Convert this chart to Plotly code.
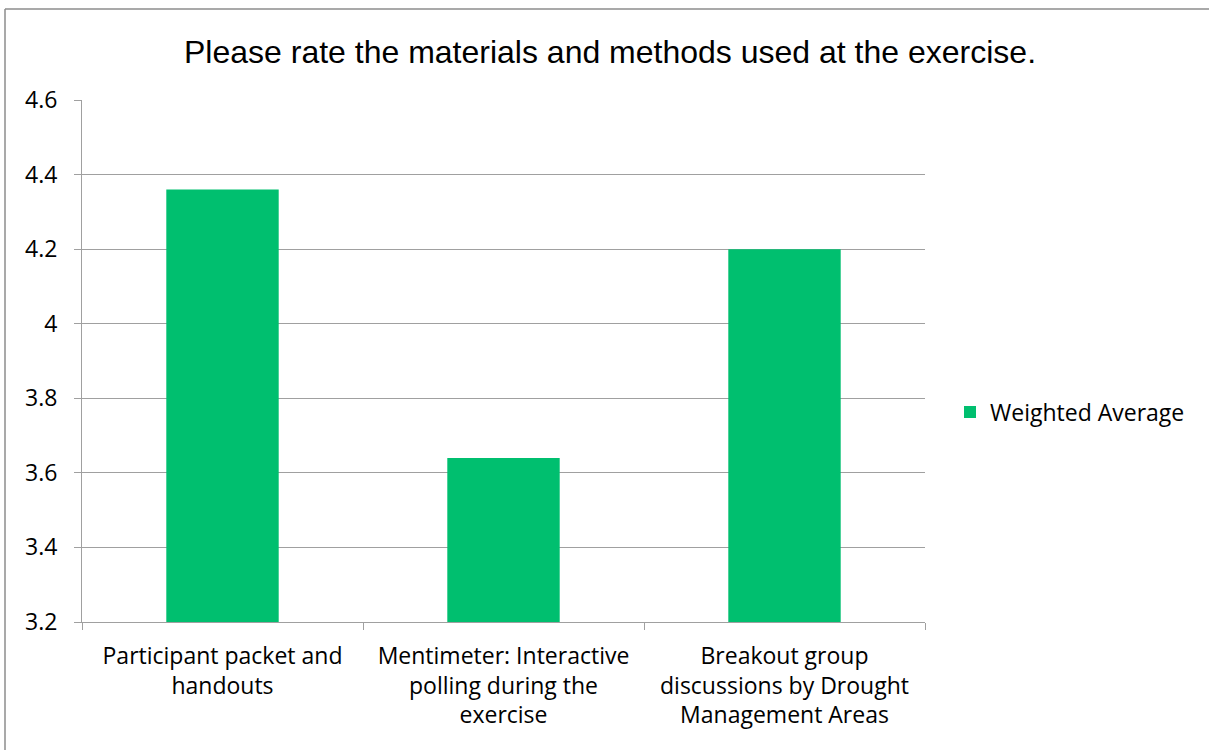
import plotly.graph_objects as go

categories = [
    "Participant packet and<br>handouts",
    "Mentimeter: Interactive<br>polling during the<br>exercise",
    "Breakout group<br>discussions by Drought<br>Management Areas",
]
weighted_average = [4.36, 3.64, 4.2]
y_ticks = [3.2, 3.4, 3.6, 3.8, 4.0, 4.2, 4.4, 4.6]
y_tick_labels = ["3.2", "3.4", "3.6", "3.8", "4", "4.2", "4.4", "4.6"]

W, H = 1209, 750
L, R, T, B = 82, 925, 100, 622
FONT = "Open Sans, Calibri"

fig = go.Figure()
fig.add_trace(go.Bar(x=categories, y=weighted_average, name="Weighted Average",
                     marker=dict(color="#00BF6F", line=dict(width=0))))

fig.update_layout(
    width=W, height=H,
    margin=dict(l=L, r=W - R, t=T, b=H - B, pad=0),
    paper_bgcolor="white", plot_bgcolor="white",
    bargap=0.6,
    showlegend=True,
    title=dict(text="Please rate the materials and methods used at the exercise.",
               x=610 / W, xref="container", xanchor="center",
               y=1 - 52 / H, yref="container", yanchor="middle",
               font=dict(family="Liberation Sans, Arial", size=32, color="black")),
    legend=dict(x=(950 - L) / (R - L), xanchor="left",
                y=(B - 412) / (B - T), yanchor="middle",
                font=dict(family=FONT, size=23, color="black"),
                bgcolor="rgba(0,0,0,0)", itemwidth=30),
    font=dict(family=FONT, size=23, color="black"),
)
fig.update_xaxes(
    showline=True, linecolor="#A0A0A0", linewidth=1,
    ticks="outside", ticklen=7, tickcolor="#A0A0A0", tickson="boundaries",
    ticklabelstandoff=13,
    showgrid=False, tickfont=dict(family=FONT, size=23, color="black"),
)
fig.update_yaxes(
    range=[3.2, 4.6], tickvals=y_ticks, ticktext=y_tick_labels,
    showline=True, linecolor="#A0A0A0", linewidth=1,
    ticks="outside", ticklen=7, tickcolor="#A0A0A0",
    ticklabelstandoff=12,
    showgrid=True, gridcolor="#A0A0A0", gridwidth=1,
    tickfont=dict(family=FONT, size=23, color="black"),
    zeroline=False,
)

# outer chart border (top and left edges visible)
x_left = (5 - L) / (R - L)
x_right = (W - L) / (R - L)
y_top = (B - 9) / (B - T)
y_bottom = (B - H) / (B - T)
fig.add_shape(type="line", xref="paper", yref="paper", x0=x_left, x1=x_right,
              y0=y_top, y1=y_top, line=dict(color="#8C8C8C", width=1.5))
fig.add_shape(type="line", xref="paper", yref="paper", x0=x_left, x1=x_left,
              y0=y_bottom, y1=y_top, line=dict(color="#8C8C8C", width=1.5))

fig.write_html("out.html", config={"displayModeBar": False},
               post_script="document.body.style.margin='0px';")
